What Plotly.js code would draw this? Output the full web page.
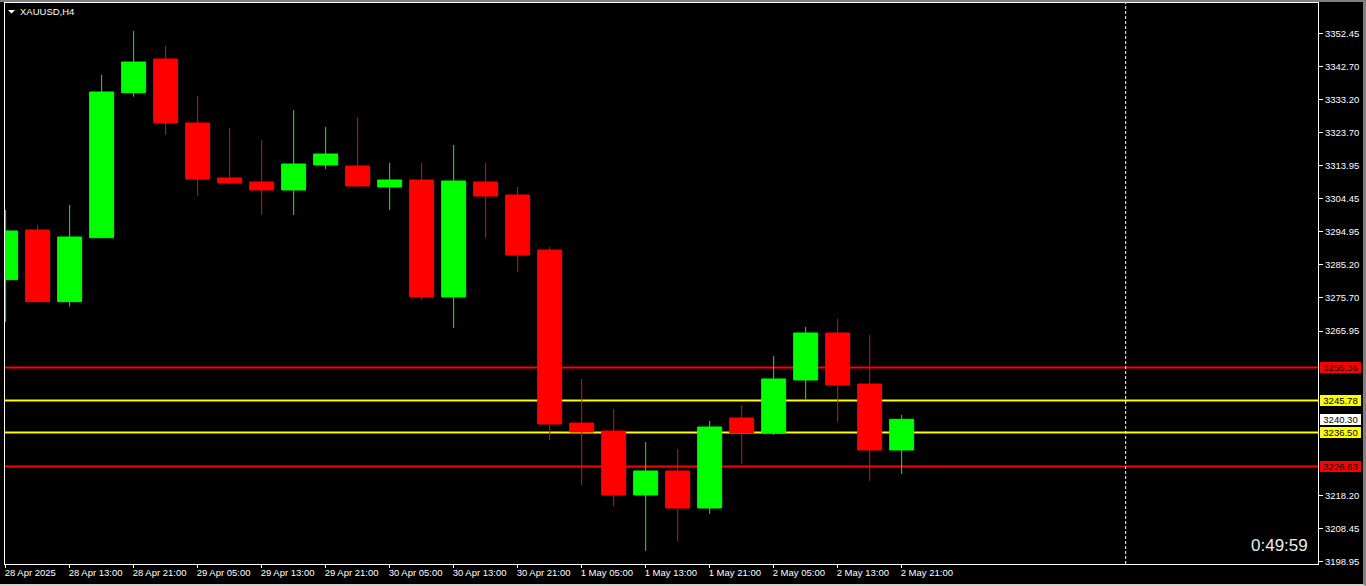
<!DOCTYPE html>
<html><head><meta charset="utf-8">
<script src="https://cdn.plot.ly/plotly-3.0.1.min.js"></script>
<style>
html,body{margin:0;padding:0;background:#000;width:1366px;height:586px;overflow:hidden}
#wrap{position:absolute;left:0;top:0;width:1363px;height:582px;border-top:2px solid #7f7f7f;border-right:3px solid #7f7f7f;border-bottom:2px solid #d4d0c8;background:#000}
#chart{width:1363px;height:582px}
</style></head><body><div id="wrap"><div id="chart"></div></div>
<script>
const symbol = "XAUUSD,H4";
const times = ["28 Apr 05:00","28 Apr 09:00","28 Apr 13:00","28 Apr 17:00","28 Apr 21:00",
  "29 Apr 01:00","29 Apr 05:00","29 Apr 09:00","29 Apr 13:00","29 Apr 17:00","29 Apr 21:00",
  "30 Apr 01:00","30 Apr 05:00","30 Apr 09:00","30 Apr 13:00","30 Apr 17:00","30 Apr 21:00",
  "1 May 01:00","1 May 05:00","1 May 09:00","1 May 13:00","1 May 17:00","1 May 21:00",
  "2 May 01:00","2 May 05:00","2 May 09:00","2 May 13:00","2 May 17:00","2 May 21:00"];
const open  = [3280.87,3295.31,3274.48,3293.07,3335.19,3344.98,3326.39,3310.41,3309.25,3306.93,3314.19,3313.90,3307.80,3309.83,3275.84,3309.25,3305.47,3289.49,3239.23,3236.91,3218.32,3225.29,3214.54,3240.69,3236.33,3251.73,3265.38,3250.56,3231.39];
const high  = [3301.12,3296.76,3302.57,3340.34,3353.12,3348.76,3334.23,3324.94,3321.45,3330.17,3325.23,3328.13,3314.77,3314.77,3320.00,3314.77,3307.80,3290.37,3252.02,3243.30,3233.71,3231.68,3239.82,3244.46,3258.70,3267.12,3269.45,3264.80,3241.56];
const low   = [3268.58,3274.30,3273.02,3293.00,3334.03,3322.90,3305.18,3308.67,3299.66,3299.66,3313.03,3307.80,3301.12,3274.97,3266.83,3292.98,3283.10,3234.30,3221.22,3215.12,3202.05,3204.95,3212.80,3227.32,3235.75,3246.21,3239.52,3222.38,3224.42];
const close = [3295.01,3274.48,3293.27,3335.40,3344.11,3326.39,3310.12,3308.96,3306.93,3314.48,3317.38,3308.09,3309.83,3275.84,3309.54,3305.18,3288.04,3238.94,3236.62,3218.32,3225.29,3214.54,3238.07,3236.33,3252.02,3265.38,3250.27,3231.39,3240.30];
const xTickText = ["28 Apr 2025","28 Apr 13:00","28 Apr 21:00","29 Apr 05:00","29 Apr 13:00","29 Apr 21:00","30 Apr 05:00","30 Apr 13:00","30 Apr 21:00","1 May 05:00","1 May 13:00","1 May 21:00","2 May 05:00","2 May 13:00","2 May 21:00"];
const yTicks = [3352.45,3342.70,3333.20,3323.70,3313.95,3304.45,3294.95,3285.20,3275.70,3265.95,3218.20,3208.45,3198.95];
const redLevels = [3255.36, 3226.63];
const yellowLevels = [3245.78, 3236.50];
const bidPrice = 3240.30;
const separatorIndex = 35;
const countdown = "0:49:59";

const font = "Liberation Sans, Arial, sans-serif";
const tickVals = times.filter((t, i) => i % 2 === 0);

const trace = {
  type: 'candlestick', x: times, open: open, high: high, low: low, close: close,
  increasing: {line: {color: '#00ff00', width: 1}, fillcolor: '#00ff00'},
  decreasing: {line: {color: '#ff0000', width: 1}, fillcolor: '#ff0000'},
  whiskerwidth: 0, hoverinfo: 'skip', showlegend: false
};

const shapes = [];
redLevels.forEach(v => shapes.push({type:'line', xref:'paper', x0:0, x1:1, yref:'y', y0:v, y1:v, layer:'below', line:{color:'#ff0000', width:2}}));
yellowLevels.forEach(v => shapes.push({type:'line', xref:'paper', x0:0, x1:1, yref:'y', y0:v, y1:v, layer:'below', line:{color:'#ffff00', width:2}}));
shapes.push({type:'line', xref:'x', x0:separatorIndex, x1:separatorIndex, yref:'paper', y0:0, y1:1, layer:'below', line:{color:'#ffffff', width:1, dash:'3px,2px'}});
shapes.push({type:'path', xref:'paper', yref:'paper', xsizemode:'pixel', ysizemode:'pixel', xanchor:0, yanchor:1,
  path:'M3,-7 L10,-7 L6.5,-10.5 Z', fillcolor:'#ffffff', line:{width:0}});

const annotations = [];
function priceLabel(v, bg) {
  annotations.push({xref:'paper', x:1, xanchor:'left', xshift:2, yref:'y', y:v, yanchor:'middle',
    text: v.toFixed(2), showarrow:false, bgcolor:bg, borderpad:1, borderwidth:0, width:39, height:9,
    align:'center', font:{family:font, size:9.5, color:'#000000'}});
}
redLevels.forEach(v => priceLabel(v, '#ff0000'));
yellowLevels.forEach(v => priceLabel(v, '#ffff00'));
priceLabel(bidPrice, '#ffffff');
annotations.push({xref:'paper', x:0, xanchor:'left', xshift:13, yref:'paper', y:1, yanchor:'middle', yshift:-8.5,
  text: symbol, showarrow:false, font:{family:font, size:9.5, color:'#ffffff'}});
annotations.push({xref:'paper', x:1, xanchor:'right', xshift:-8, yref:'paper', y:0, yanchor:'middle', yshift:19,
  text: countdown, showarrow:false, font:{family:font, size:17, color:'#eeeeee'}});

const layout = {
  width: 1363, height: 582,
  margin: {l:5, r:45, t:1, b:20, pad:0},
  paper_bgcolor: '#000000', plot_bgcolor: '#000000',
  boxgap: 0.25, boxgroupgap: 0,
  showlegend: false,
  xaxis: {type:'category', range:[-0.02, 41.01], rangeslider:{visible:false},
    tickmode:'array', tickvals: tickVals, ticktext: xTickText,
    ticks:'outside', ticklen:3, tickcolor:'#ffffff', tickwidth:1,
    ticklabelposition:'outside right', ticklabelshift:-2,
    tickfont:{family:font, size:9.5, color:'#ffffff'},
    showgrid:false, zeroline:false, showline:true, mirror:true, linecolor:'#ffffff', linewidth:1, fixedrange:true},
  yaxis: {side:'right', range:[3198.27, 3361.25], tickmode:'array', tickvals: yTicks, ticktext: yTicks.map(v => v.toFixed(2)),
    ticks:'outside', ticklen:4, tickcolor:'#ffffff', tickwidth:1,
    tickfont:{family:font, size:9.5, color:'#ffffff'},
    showgrid:false, zeroline:false, showline:true, mirror:true, linecolor:'#ffffff', linewidth:1, fixedrange:true},
  shapes: shapes, annotations: annotations
};
Plotly.newPlot('chart', [trace], layout, {staticPlot:true, displayModeBar:false});
</script></body></html>
